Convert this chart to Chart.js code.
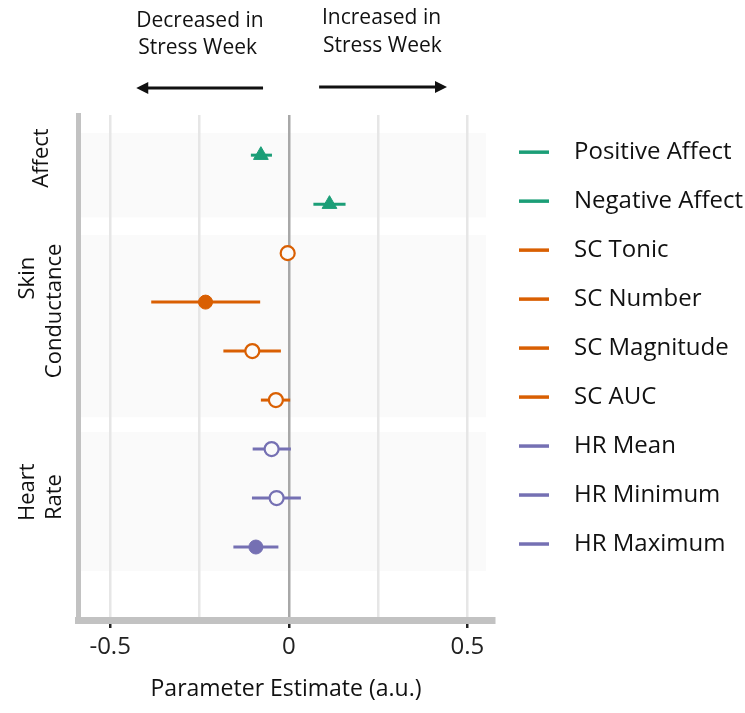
<!DOCTYPE html>
<html lang="en">
<head>
<meta charset="UTF-8">
<title>Stress Week estimates</title>
<style>
  body { margin: 0; background: #fff; }
</style>
</head>
<body>
<canvas id="forest-chart" width="745" height="713"></canvas>

<script src="https://cdn.jsdelivr.net/npm/chart.js@4.4.1/dist/chart.umd.min.js"></script>
<script>
// data
const measures = ['Positive Affect', 'Negative Affect', 'SC Tonic', 'SC Number', 'SC Magnitude',
                  'SC AUC', 'HR Mean', 'HR Minimum', 'HR Maximum'];
const rows = [1, 2, 3, 4, 5, 6, 7, 8, 9];
const estimates = [-0.078, 0.114, -0.003, -0.233, -0.102, -0.036, -0.048, -0.034, -0.092];
const lowers    = [-0.106, 0.069, -0.012, -0.385, -0.183, -0.078, -0.101, -0.103, -0.155];
const uppers    = [-0.047, 0.159,  0.008, -0.080, -0.022,  0.004,  0.006,  0.034, -0.029];
const filled    = [true, true, false, true, false, false, false, false, true];

// group strips: band extent in row units, label lines and where each line is centred
const groupBands = [[0.55, 2.27], [2.63, 6.35], [6.65, 9.49]];
const groupLines = [['Affect'], ['Skin', 'Conductance'], ['Heart', 'Rate']];
const groupLineRows = [[1.06], [3.51, 4.18], [7.88, 7.98]];

const xTicks = [-0.5, -0.25, 0, 0.25, 0.5];
const xTickLabels = ['-0.5', '', '0', '', '0.5'];

const GREEN = '#1b9e77', ORANGE = '#d95f02', PURPLE = '#7570b3';
const colors = [GREEN, GREEN, ORANGE, ORANGE, ORANGE, ORANGE, PURPLE, PURPLE, PURPLE];
const shapes = ['triangle', 'triangle', 'circle', 'circle', 'circle', 'circle', 'circle', 'circle', 'circle'];

const FONT = "'Open Sans', sans-serif";
const BAND = '#fafafa';

// points on top, error bars underneath (higher order is drawn first)
const pointSets = measures.map((m, i) => ({
    label: m,
    data: [{ x: estimates[i], y: rows[i] }],
    pointStyle: shapes[i],
    pointRadius: shapes[i] === 'triangle' ? 8.5 : 7,
    borderColor: colors[i],
    borderWidth: filled[i] ? 1 : 2.2,
    backgroundColor: filled[i] ? colors[i] : BAND,
    order: 0
}));
const barSets = measures.map((m, i) => ({
    label: m + ' CI',
    data: [{ x: lowers[i], y: rows[i] }, { x: uppers[i], y: rows[i] }],
    showLine: true,
    pointRadius: 0,
    borderColor: colors[i],
    borderWidth: 3,
    order: 1
}));

// light grey bands behind each group
const bandsPlugin = {
    id: 'bands',
    beforeDraw(chart) {
        const { ctx, chartArea, scales: { x, y } } = chart;
        ctx.save();
        ctx.fillStyle = BAND;
        const right = x.getPixelForValue(0.552);
        for (const [a, b] of groupBands) {
            const top = y.getPixelForValue(a), bottom = y.getPixelForValue(b);
            ctx.fillRect(chartArea.left, top, right - chartArea.left, bottom - top);
        }
        ctx.restore();
    }
};

function arrow(ctx, x1, x2, yy) {
    const dir = Math.sign(x2 - x1);
    ctx.beginPath();
    ctx.moveTo(x1, yy);
    ctx.lineTo(x2 - dir * 8, yy);
    ctx.lineWidth = 3;
    ctx.stroke();
    ctx.beginPath();
    ctx.moveTo(x2, yy);
    ctx.lineTo(x2 - dir * 12, yy - 6);
    ctx.lineTo(x2 - dir * 12, yy + 6);
    ctx.closePath();
    ctx.fill();
}

// group labels, arrows at the top and the legend on the right
const textPlugin = {
    id: 'texts',
    afterDraw(chart) {
        const { ctx, scales: { x, y } } = chart;
        ctx.save();
        ctx.fillStyle = '#111';
        ctx.strokeStyle = '#111';

        // direction notes
        ctx.font = '21px ' + FONT;
        ctx.textBaseline = 'middle';
        ctx.textAlign = 'left';
        const lx = x.getPixelForValue(-0.427), rx = x.getPixelForValue(0.093);
        ctx.fillText('Decreased in', lx, 21);
        ctx.fillText('Stress Week', lx + 2, 48);
        ctx.fillText('Increased in', rx, 18);
        ctx.fillText('Stress Week', rx + 1, 46);
        arrow(ctx, x.getPixelForValue(-0.072), x.getPixelForValue(-0.427), 88);
        arrow(ctx, x.getPixelForValue(0.085), x.getPixelForValue(0.443), 87);

        // rotated group names
        ctx.font = '22px ' + FONT;
        ctx.textAlign = 'center';
        groupLines.forEach((lines, g) => {
            lines.forEach((t, k) => {
                const cx = lines.length === 1 ? 41.5 : 28 + k * 27;
                ctx.save();
                ctx.translate(cx, y.getPixelForValue(groupLineRows[g][k]));
                ctx.rotate(-Math.PI / 2);
                ctx.fillText(t, 0, 0);
                ctx.restore();
            });
        });

        // legend
        ctx.font = '24px ' + FONT;
        ctx.textAlign = 'left';
        measures.forEach((m, i) => {
            const py = y.getPixelForValue(rows[i]) - 3;
            ctx.strokeStyle = colors[i];
            ctx.lineWidth = 3.5;
            ctx.beginPath();
            ctx.moveTo(519, py);
            ctx.lineTo(549, py);
            ctx.stroke();
            ctx.fillStyle = '#111';
            ctx.fillText(m, 574, py);
        });
        ctx.restore();
    }
};

const ctx = document.getElementById('forest-chart').getContext('2d');
const chart = new Chart(ctx, {
    type: 'scatter',
    data: { datasets: [...pointSets, ...barSets] },
    options: {
        responsive: false,
        animation: false,
        layout: { padding: { top: 115, right: 251, left: 0, bottom: 0 } },
        plugins: { legend: { display: false }, tooltip: { enabled: false } },
        scales: {
            x: {
                type: 'linear',
                min: -0.59,
                max: 0.5746,
                afterBuildTicks: s => { s.ticks = xTicks.map(v => ({ value: v })); },
                afterFit: s => { s.height = 93; },
                grid: {
                    color: c => (c.tick && c.tick.value === 0) ? '#a8a8a8' : '#e6e6e6',
                    lineWidth: 2.5,
                    tickColor: c => xTickLabels[c.index] ? '#222' : 'rgba(0,0,0,0)',
                    tickWidth: 2.5,
                    tickLength: 8
                },
                border: { display: true, color: '#c2c2c2', width: 7 },
                ticks: {
                    callback: (v, i) => xTickLabels[i],
                    font: { family: FONT, size: 24 },
                    color: '#222',
                    padding: 5,
                    maxRotation: 0,
                    autoSkip: false
                },
                title: {
                    display: true,
                    text: 'Parameter Estimate (a.u.)',
                    font: { family: FONT, size: 23 },
                    color: '#111',
                    padding: { top: 10, bottom: 10 }
                }
            },
            y: {
                type: 'linear',
                reverse: true,
                min: 0.18,
                max: 10.49,
                afterFit: s => { s.width = 78; },
                ticks: { display: false },
                grid: { display: false },
                border: { display: true, color: '#c2c2c2', width: 5 }
            }
        }
    },
    plugins: [bandsPlugin, textPlugin]
});
</script>
</body>
</html>
